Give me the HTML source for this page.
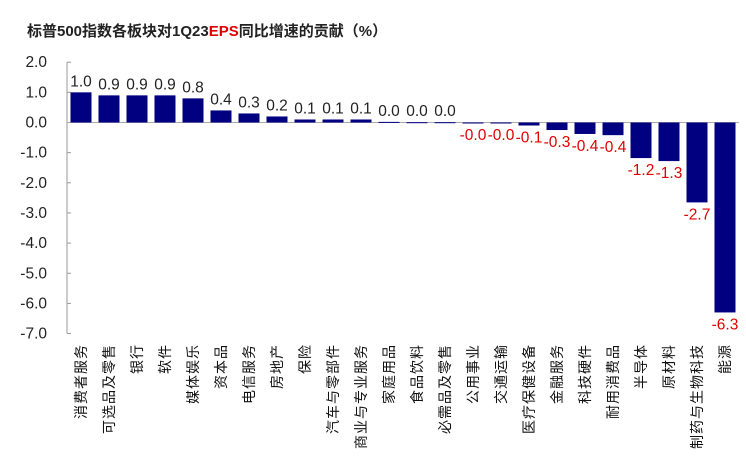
<!DOCTYPE html>
<html><head><meta charset="utf-8"><style>
body{margin:0;background:#fff;}
svg{display:block;font-family:"Liberation Sans","Noto Sans CJK SC",sans-serif;}
</style></head><body>
<svg width="746" height="463">
<text x="27" y="36" font-size="15" font-weight="bold" fill="#222">标普500指数各板块对1Q23<tspan fill="#e00000">EPS</tspan>同比增速的贡献（%）</text>
<g id="axes"></g><g id="bars"></g>
</svg>
<script>
const categories=["消费者服务","可选品及零售","银行","软件","媒体娱乐","资本品","电信服务","房地产","保险","汽车与零部件","商业与专业服务","家庭用品","食品饮料","必需品及零售","公用事业","交通运输","医疗保健设备","金融服务","科技硬件","耐用消费品","半导体","原材料","制药与生物科技","能源"];
const values=[1.0,0.9,0.9,0.9,0.8,0.4,0.3,0.2,0.1,0.1,0.1,0.02,0.01,0.01,-0.02,-0.02,-0.1,-0.25,-0.38,-0.42,-1.18,-1.28,-2.65,-6.3];
const valueLabels=["1.0","0.9","0.9","0.9","0.8","0.4","0.3","0.2","0.1","0.1","0.1","0.0","0.0","0.0","-0.0","-0.0","-0.1","-0.3","-0.4","-0.4","-1.2","-1.3","-2.7","-6.3"];
const yTicks=[2,1,0,-1,-2,-3,-4,-5,-6,-7];
const NS="http://www.w3.org/2000/svg";
const x0=67,band=28,barW=21;
const y=v=>122.5-v*30.15;
const xc=i=>x0+band*i+band/2;
function mk(tag,attrs,parent){const e=document.createElementNS(NS,tag);for(const k in attrs)e.setAttribute(k,attrs[k]);parent.appendChild(e);return e;}
const ax=document.getElementById('axes'),bg=document.getElementById('bars');
let l=mk('line',{x1:x0,x2:x0,y1:y(2),y2:y(-7),stroke:'#999'},ax);


yTicks.forEach(t=>{
 const tk=mk('line',{x1:x0,x2:x0+4,y1:y(t),y2:y(t),stroke:'#999'},ax);
 
 
 const tx=mk('text',{x:47,y:y(t)+5,'font-size':15.5,'text-anchor':'end',fill:'#222'},ax);
 tx.textContent=t.toFixed(1);
 
 
});
l=mk('line',{x1:x0,x2:x0+band*categories.length,y1:y(0),y2:y(0),stroke:'#aaa'},ax);


categories.forEach((c,i)=>{
 const v=values[i];
 const top=Math.min(y(v),y(0)),h=Math.max(Math.abs(y(v)-y(0)),1);
 const r=mk('rect',{x:xc(i)-barW/2,y:top,width:barW,height:h,fill:'#000080'},bg);
 
 
 const vl=mk('text',{x:xc(i),y:v>=0?y(v)-6:y(v)+17,'font-size':15.5,'text-anchor':'middle',fill:v>=0?'#222':'#e00000'},bg);
 vl.textContent=valueLabels[i];
 
 
 const cl=mk('text',{x:0,y:0,'font-size':14,'letter-spacing':1,'text-anchor':'end',fill:'#111',transform:`translate(${xc(i)+5},344) rotate(-90)`},bg);
 cl.textContent=c;
 
 
});
</script>
</body></html>
